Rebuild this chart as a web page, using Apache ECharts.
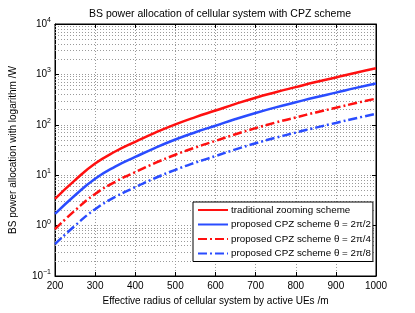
<!DOCTYPE html>
<html>
<head>
<meta charset="utf-8">
<script src="https://cdn.jsdelivr.net/npm/echarts@6/dist/echarts.min.js"></script>
<style>
html,body{margin:0;padding:0;background:#fff;}
#chart{width:415px;height:313px;}
</style>
</head>
<body>
<div id="chart"></div>
<script>
// ---- data ----
var radius = [200, 250, 300, 350, 400, 450, 500, 550, 600, 650, 700, 750, 800, 850, 900, 950, 1000];
var traditional = [3.4, 8.0, 17, 29.5, 46, 70, 102, 142, 192, 260, 345, 443, 560, 705, 870, 1080, 1320];
var cpzHalf = [1.7, 4.0, 8.5, 14.8, 23, 35, 51, 71, 96, 130, 172, 222, 280, 352, 435, 540, 660];
var cpzQuarter = [0.85, 2.0, 4.25, 7.4, 11.5, 17.5, 25.5, 35.5, 48, 65, 86, 111, 140, 176, 218, 270, 330];
var cpzEighth = [0.43, 1.0, 2.12, 3.7, 5.8, 8.8, 12.8, 17.8, 24, 32.5, 43, 55.5, 70, 88, 109, 135, 165];
var seriesNames = [
  'traditional zooming scheme',
  'proposed CPZ scheme \u03b8 = 2\u03c0/2',
  'proposed CPZ scheme \u03b8 = 2\u03c0/4',
  'proposed CPZ scheme \u03b8 = 2\u03c0/8'
];
var xTicks = [200, 300, 400, 500, 600, 700, 800, 900, 1000];
var yDecades = [0.1, 1, 10, 100, 1000, 10000];

function pairs(ys) { return radius.map(function (x, i) { return [x, ys[i]]; }); }

var minorVals = [];
for (var d = 0; d < yDecades.length - 1; d++) {
  for (var m = 2; m <= 9; m++) minorVals.push(+(yDecades[d] * m).toPrecision(3));
}

var RED = '#ff1010', BLUE = '#2a4cff';
var FONT = 'Liberation Sans';
var dashDot = [9, 3, 2, 3];

var chart = echarts.init(document.getElementById('chart'), null, {renderer: 'canvas'});
function mkSeries(name, ys, color, dash) {
  return {
    name: name, type: 'line', data: pairs(ys), smooth: true,
    symbol: 'none', showSymbol: false, xAxisIndex: 0, yAxisIndex: 0,
    lineStyle: {color: color, width: 2.5, type: dash},
    itemStyle: {color: color}, z: 5
  };
}
var s0 = mkSeries(seriesNames[0], traditional, RED, 'solid');
s0.markLine = {
  silent: true, symbol: 'none', animation: false,
  label: {show: false},
  lineStyle: {color: '#9a9a9a', type: [1, 2], width: 1},
  data: minorVals.map(function (v) { return {yAxis: v}; }),
  z: 1
};
var option = {
  animation: false,
  backgroundColor: '#fff',
  title: {
    text: 'BS power allocation of cellular system with CPZ scheme',
    left: 215, top: 4, textAlign: 'center',
    textStyle: {fontFamily: FONT, fontSize: 10.5, fontWeight: 'normal', color: '#000'}
  },
  grid: {left: 55, right: 39, top: 24, bottom: 37, show: true, borderColor: '#000', borderWidth: 1, backgroundColor: '#fff'},
  legend: {
    orient: 'vertical', left: 193, top: 202,
    itemWidth: 30, itemHeight: 10, itemGap: 4.5,
    padding: [3, 2, 3, 4],
    backgroundColor: '#fff', borderColor: '#000', borderWidth: 1,
    itemStyle: {opacity: 0},
    textStyle: {fontFamily: FONT, fontSize: 9.8, color: '#000', padding: [0, 0, 0, -2]},
    data: seriesNames
  },
  xAxis: [{
    type: 'value', min: 200, max: 1000, interval: 100,
    name: 'Effective radius of cellular system by active UEs /m',
    nameLocation: 'middle', nameGap: 19,
    nameTextStyle: {fontFamily: FONT, fontSize: 10, color: '#000'},
    axisLine: {lineStyle: {color: '#000'}},
    axisTick: {inside: true, length: 4, lineStyle: {color: '#000'}},
    axisLabel: {fontFamily: FONT, fontSize: 10, color: '#000', margin: 5,
      formatter: function (v) { return xTicks.indexOf(v) >= 0 ? String(v) : ''; }},
    splitLine: {show: true, lineStyle: {color: '#9a9a9a', type: [1, 2]}}
  }, {
    type: 'value', min: 200, max: 1000, interval: 100, position: 'top',
    axisLine: {lineStyle: {color: '#000'}},
    axisTick: {inside: true, length: 4, lineStyle: {color: '#000'}},
    axisLabel: {show: false}, splitLine: {show: false}
  }],
  yAxis: [{
    type: 'log', logBase: 10, min: 0.1, max: 10000,
    name: 'BS power allocation with logarithm /W',
    nameLocation: 'middle', nameGap: 37,
    nameTextStyle: {fontFamily: FONT, fontSize: 10, color: '#000'},
    axisLine: {lineStyle: {color: '#000'}},
    axisTick: {inside: true, length: 4, lineStyle: {color: '#000'}},
    axisLabel: {
      fontFamily: FONT, fontSize: 10, color: '#000', margin: 4,
      formatter: function (v) {
        var e = Math.round(Math.log10(v));
        return '{b|10}{s|' + e.toString().replace('-', '\u2212') + '}';
      },
      rich: {
        b: {fontFamily: FONT, fontSize: 10, color: '#000'},
        s: {fontFamily: FONT, fontSize: 7, color: '#000', padding: [0, 0, 8, 0]}
      }
    },
    splitLine: {show: true, lineStyle: {color: '#9a9a9a', type: [1, 2]}}
  }, {
    type: 'log', logBase: 10, min: 0.1, max: 10000, position: 'right',
    axisLine: {lineStyle: {color: '#000'}},
    axisTick: {inside: true, length: 4, lineStyle: {color: '#000'}},
    axisLabel: {show: false}, splitLine: {show: false}
  }],
  series: [
    s0,
    mkSeries(seriesNames[1], cpzHalf, BLUE, 'solid'),
    mkSeries(seriesNames[2], cpzQuarter, RED, dashDot),
    mkSeries(seriesNames[3], cpzEighth, BLUE, dashDot)
  ]
};
chart.setOption(option);
</script>
</body>
</html>
